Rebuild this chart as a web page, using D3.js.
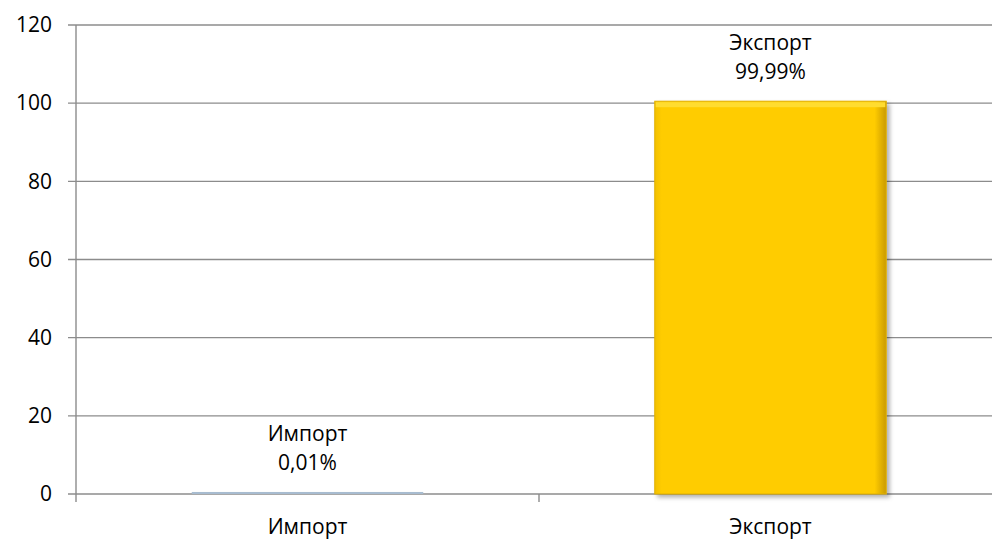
<!DOCTYPE html>
<html>
<head>
<meta charset="utf-8">
<script src="https://cdn.jsdelivr.net/npm/d3@7"></script>
<style>
  body { margin: 0; background: #fff; }
  svg { display: block; font-family: "Open Sans", "Noto Sans", sans-serif; }
</style>
</head>
<body>
<script>
// Chart data
const categories = ['Импорт', 'Экспорт'];
const values = [0.01, 99.99];
const valueLabels = ['0,01%', '99,99%'];
const yTicks = [0, 20, 40, 60, 80, 100, 120];

const width = 992, height = 539;
const margin = { top: 25, right: -10, bottom: 45, left: 76 };
const innerW = width - margin.left - margin.right;
const innerH = height - margin.top - margin.bottom;
const fontSize = 21;

const svg = d3.select('body').append('svg')
    .attr('width', width)
    .attr('height', height);

const defs = svg.append('defs');
const grad = defs.append('linearGradient').attr('id', 'gold')
    .attr('x1', 0).attr('y1', 0).attr('x2', 1).attr('y2', 0);
grad.append('stop').attr('offset', '0%').attr('stop-color', '#f2c000');
grad.append('stop').attr('offset', '3%').attr('stop-color', '#ffcc00');
grad.append('stop').attr('offset', '95%').attr('stop-color', '#ffcc00');
grad.append('stop').attr('offset', '100%').attr('stop-color', '#c99a00');

const shadow = defs.append('filter').attr('id', 'shadow')
    .attr('x', '-5%').attr('y', '-5%').attr('width', '115%').attr('height', '115%');
shadow.append('feDropShadow').attr('dx', 3).attr('dy', 3)
    .attr('stdDeviation', 2).attr('flood-color', '#000').attr('flood-opacity', 0.3);

const g = svg.append('g')
    .attr('transform', `translate(${margin.left},${margin.top})`);

const x = d3.scaleBand()
    .domain(categories)
    .range([0, innerW])
    .paddingInner(0)
    .paddingOuter(0);

const y = d3.scaleLinear()
    .domain([0, 120])
    .range([innerH, 0]);

// Gridlines
g.append('g')
    .selectAll('line')
    .data(yTicks)
    .enter().append('line')
    .attr('x1', -8)
    .attr('x2', innerW)
    .attr('y1', d => y(d))
    .attr('y2', d => y(d))
    .attr('stroke', '#8c8c8c')
    .attr('stroke-width', 1.4);

// Y axis
const yAxis = g.append('g')
    .call(d3.axisLeft(y).tickValues(yTicks).tickSize(0).tickPadding(24));
yAxis.select('.domain').remove();
yAxis.selectAll('text')
    .attr('font-size', fontSize)
    .attr('fill', '#000')
    .attr('font-family', '"Open Sans", sans-serif');

g.append('line')
    .attr('x1', 0).attr('x2', 0)
    .attr('y1', 0).attr('y2', innerH + 8)
    .attr('stroke', '#8c8c8c')
    .attr('stroke-width', 1.4);

// category boundary ticks
g.selectAll('.cat-tick')
    .data(categories.slice(1))
    .enter().append('line')
    .attr('class', 'cat-tick')
    .attr('x1', d => x(d)).attr('x2', d => x(d))
    .attr('y1', innerH).attr('y2', innerH + 8)
    .attr('stroke', '#8c8c8c')
    .attr('stroke-width', 1.4);

// Bars
const barW = x.bandwidth() / 2;
const bars = g.selectAll('.bar')
    .data(values)
    .enter().append('g')
    .attr('class', 'bar');

bars.append('rect')
    .attr('x', (d, i) => x(categories[i]) + (x.bandwidth() - barW) / 2)
    .attr('y', d => y(d) - 2)
    .attr('width', barW)
    .attr('height', d => Math.max(innerH - y(d), 0) + 2)
    .attr('fill', (d, i) => i === 0 ? '#a8bcd0' : 'url(#gold)')
    .attr('filter', (d, i) => i === 0 ? null : 'url(#shadow)')
    .attr('stroke', (d, i) => i === 0 ? 'none' : '#e0b000')
    .attr('stroke-width', 1);

// Top bevel highlight on big bar
bars.filter(d => d > 1).append('rect')
    .attr('x', () => x('Экспорт') + (x.bandwidth() - barW) / 2 + 1)
    .attr('y', d => y(d) - 1)
    .attr('width', barW - 2)
    .attr('height', 5)
    .attr('fill', '#ffdc30');

// Data labels
const labels = g.selectAll('.dlabel')
    .data(values)
    .enter().append('text')
    .attr('class', 'dlabel')
    .attr('text-anchor', 'middle')
    .attr('font-size', fontSize)
    .attr('fill', '#000')
    .attr('x', (d, i) => x(categories[i]) + x.bandwidth() / 2)
    .attr('y', d => y(d) - 53);

labels.append('tspan')
    .attr('x', (d, i) => x(categories[i]) + x.bandwidth() / 2)
    .text((d, i) => categories[i]);
labels.append('tspan')
    .attr('x', (d, i) => x(categories[i]) + x.bandwidth() / 2)
    .attr('dy', 29)
    .text((d, i) => valueLabels[i]);

// X axis labels
g.selectAll('.xlabel')
    .data(categories)
    .enter().append('text')
    .attr('class', 'xlabel')
    .attr('text-anchor', 'middle')
    .attr('font-size', fontSize)
    .attr('fill', '#000')
    .attr('x', d => x(d) + x.bandwidth() / 2)
    .attr('y', innerH + 40)
    .text(d => d);
</script>
</body>
</html>
